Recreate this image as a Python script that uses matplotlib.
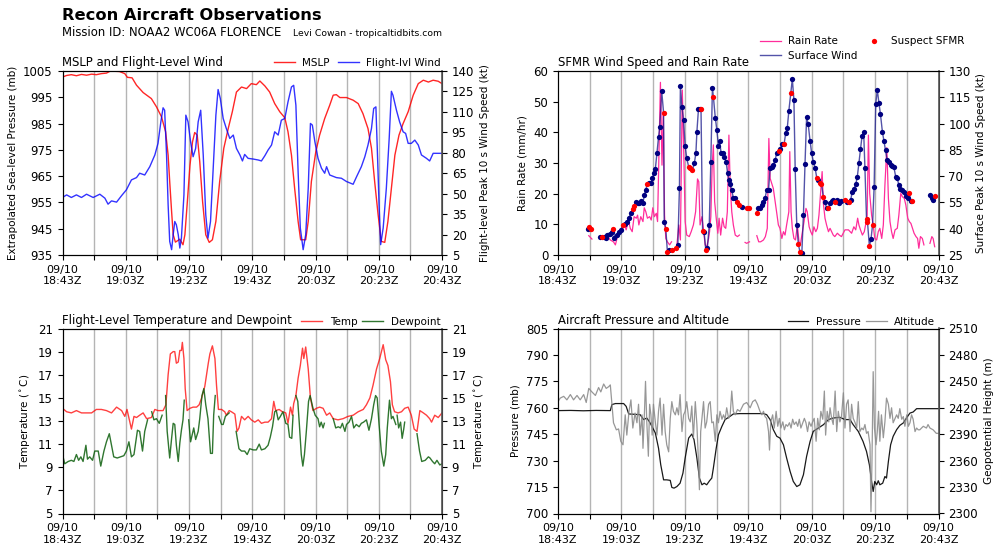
import numpy as np
import matplotlib
matplotlib.use("Agg")
import matplotlib.pyplot as plt

# ---------------- data (time in minutes after 09/10 18:43Z) ----------------
time_ticks = list(range(0, 121, 10))
time_labels = ["09/10\n18:43Z", "", "09/10\n19:03Z", "", "09/10\n19:23Z", "",
               "09/10\n19:43Z", "", "09/10\n20:03Z", "", "09/10\n20:23Z", "",
               "09/10\n20:43Z"]

mslp = [(0, 1002.7), (1.3, 1003.3), (2.8, 1003.6), (4.4, 1003.2), (6, 1003.7), (7.6, 1003.4),
        (9.2, 1003.8), (10.7, 1003.6), (12.3, 1004.0), (13.9, 1004.2), (15, 1004.9), (16.5, 1004.9),
        (18, 1004.8), (19.7, 1004.0), (20.5, 1002.6), (22, 1002.4), (23.4, 999.6), (25.5, 996.8),
        (28.1, 994.5), (29.7, 991.4), (31.3, 987.6), (32.6, 981.9), (33.4, 973), (33.9, 962.9),
        (34.5, 951.5), (35, 942.7), (35.7, 939.9), (37.1, 941), (38.1, 938.9), (38.7, 942.7),
        (39.4, 954), (40.3, 969), (41.1, 978), (41.8, 981.6), (42.6, 980.6), (43.4, 970.5),
        (44.3, 955.3), (45.3, 942.7), (46.4, 939.8), (47.4, 940.8), (48.5, 947.8), (49.7, 963),
        (51, 975.6), (52.4, 983.1), (53.7, 989.5), (55, 997), (56.6, 998.9), (58.2, 998.3),
        (59.7, 1000.2), (61.3, 999.8), (62.4, 1001.2), (64, 999.3), (65.5, 997), (67.1, 992.6),
        (68.7, 989.5), (70.3, 987.2), (71.3, 981.9), (72.4, 973), (73.4, 960.4), (74.5, 947.8),
        (75.3, 940.8), (76.9, 940.8), (77.7, 947.8), (78.7, 963), (80.1, 974.3), (81.3, 980.6),
        (82.9, 986.9), (84.5, 992), (85.6, 995.8), (86.6, 996), (87.7, 994.9), (89.8, 994.9),
        (91.9, 993.9), (93.5, 992.6), (95, 988.8), (96.6, 983.1), (97.7, 975.6), (98.7, 963),
        (99.8, 950.3), (100.8, 940.2), (101.9, 939.8), (102.9, 947.8), (104, 960.4), (105.1, 973),
        (106.4, 980.6), (107.7, 985), (109.3, 989.5), (110.9, 995.8), (112.5, 1000.2),
        (114.1, 1001.5), (115.7, 1000.8), (117.2, 1001.5), (118.8, 1001.1), (120, 1000.2)]

flight_wind = [(0, 47.2), (1.3, 49.1), (2.8, 47.2), (4.4, 49.1), (6, 47.2), (7.6, 49.6), (9.7, 47.2),
               (11.8, 49.6), (13.4, 46.7), (14.4, 42.3), (15.5, 44.7), (17.1, 43.8), (18.7, 48.6),
               (20.2, 52.8), (21.8, 60.1), (23.4, 61.8), (24.4, 65), (26, 63.7), (27.6, 69.8),
               (29.2, 78.4), (30.2, 86.9), (31.1, 102.7), (31.8, 113), (32.3, 111.2), (32.9, 78.4),
               (33.4, 41.8), (33.9, 15), (34.5, 8.9), (35, 19.9), (35.5, 29.6), (36, 27.2),
               (36.6, 19.9), (37.1, 10.1), (37.6, 17.4), (38.4, 49.1), (39, 107.6), (39.7, 102.7),
               (40.5, 88.1), (41.3, 77.1), (42.1, 83.2), (42.9, 102.7), (43.7, 111.2), (44.5, 78.4),
               (45.3, 34.5), (46, 17.4), (46.8, 29.6), (47.6, 66.2), (48.5, 107.6), (49.2, 126.4),
               (49.9, 119.8), (50.8, 105.2), (51.8, 97.8), (52.9, 90.5), (54, 93), (55, 83.2),
               (56.1, 78.4), (56.9, 74), (57.6, 78.8), (58.7, 75.9), (60.3, 75.4), (61.9, 74.7),
               (62.9, 74), (64, 77.9), (65, 82), (66.1, 85.7), (67.1, 95.4), (68.2, 93), (69.2, 103.9),
               (70.3, 105.2), (71.3, 117.3), (72.4, 128.3), (73.1, 129.5), (73.8, 114.9), (74.5, 66.2),
               (75.2, 24.8), (76.1, 8.9), (76.9, 19.9), (77.7, 54), (78.4, 101.5), (79, 100.3),
               (79.8, 88.1), (80.8, 75.9), (81.9, 68.6), (82.9, 65), (83.5, 69.8), (84.5, 63.7),
               (86.6, 61.8), (88.2, 61.3), (89.8, 58.9), (91.9, 56.9), (93, 62.5), (94.5, 69.8),
               (95.6, 77.1), (96.6, 85.7), (97.7, 97.8), (98.4, 112.5), (99.1, 113.7), (99.6, 78.4),
               (100.1, 41.8), (100.6, 12.6), (101.4, 24.8), (102.4, 54), (103.3, 90.5), (104, 125.1),
               (104.5, 122.2), (105.6, 111.2), (106.6, 102.7), (107.7, 95.4), (108.5, 94.2),
               (109.3, 86.9), (110.3, 86.9), (111.4, 89.3), (112.5, 85.7), (113.5, 78.4),
               (115.1, 75.9), (116.1, 74), (117.2, 79.6), (120, 79.6)]

# SFMR surface wind: (minute, kt, suspect flag); None = data gap
sfmr_wind = [(9.4, 39.8, 0), (9.9, 41.2, 1), (10.3, 39.8, 1), None,
             (13.1, 35.1, 0), (13.9, 35.1, 1), (14.6, 35.5, 0), (15.2, 34.5, 0), (15.6, 36.4, 0),
             (16.3, 36.8, 0), (17.0, 38.3, 0), (17.5, 39.8, 1), (17.8, 34.9, 0), (18.6, 36.4, 0),
             (19.2, 37.9, 0), (19.8, 39.3, 0), (20.5, 42.1, 1), (21.2, 42.7, 0), (21.8, 44.0, 0),
             (22.4, 46.3, 0), (23.0, 48.8, 0), (23.5, 51.1, 1), (24.0, 53.0, 1), (24.5, 55.1, 0),
             (25.1, 54.5, 0), (25.7, 54.5, 0), (26.2, 55.8, 0), (26.8, 54.5, 0), (27.2, 59.2, 0),
             (27.7, 62.1, 0), (28.1, 65.3, 1), (28.8, 65.9, 0), (29.3, 65.9, 0), (29.8, 68.7, 0),
             (30.2, 72.0, 0), (30.7, 74.1, 0), (31.2, 83.4, 0), (31.7, 92.1, 0), (32.1, 98.2, 0),
             (32.7, 118.6, 0), (33.3, 106.2, 1), (33.5, 44.0, 0), (34.0, 39.8, 1), (34.5, 26.9, 1),
             (35.1, 27.7, 0), (35.8, 27.7, 1), (37.2, 28.8, 1), (37.8, 30.7, 0), (38.3, 63.4, 0),
             (38.6, 121.4, 0), (39.1, 109.3, 0), (39.6, 102.0, 0), (40.1, 87.2, 0), (40.6, 80.2, 0),
             (41.2, 75.4, 1), (41.7, 74.5, 1), (42.4, 73.5, 1), (43.0, 77.3, 0), (43.5, 83.4, 0),
             (43.8, 95.2, 0), (44.3, 108.3, 0), (44.8, 108.3, 0), (45.1, 108.3, 1), (45.6, 38.7, 1),
             (46.1, 37.9, 0), (46.6, 27.9, 1), (47.1, 28.8, 0), (47.7, 42.1, 0), (48.2, 78.3, 0),
             (48.7, 120.1, 0), (49.0, 115.4, 1), (49.6, 103.4, 0), (50.1, 96.3, 0), (50.6, 87.4, 0),
             (51.0, 90.0, 0), (51.4, 83.4, 0), (52.0, 83.0, 0), (52.5, 81.1, 0), (53.0, 78.3, 0),
             (53.5, 71.6, 0), (53.9, 67.8, 0), (54.3, 65.3, 0), (54.8, 62.1, 0), (55.3, 57.3, 0),
             (55.9, 57.3, 0), (56.4, 55.4, 1), (57.0, 53.5, 1), (58.0, 52.6, 0), (59.5, 52.0, 1),
             (60.3, 52.0, 1), None,
             (62.7, 48.8, 1), (63.2, 52.0, 0), (63.7, 52.0, 0), (64.3, 53.5, 0), (64.8, 55.4, 0),
             (65.3, 57.3, 0), (65.8, 62.1, 0), (66.4, 62.1, 0), (66.9, 74.5, 0), (67.4, 75.4, 0),
             (67.9, 76.4, 0), (68.5, 79.2, 0), (69.0, 83.4, 0), (69.6, 84.3, 1), (70.1, 85.5, 0),
             (70.8, 88.2, 0), (71.3, 88.3, 1), (71.8, 94.4, 0), (72.3, 97.3, 0), (72.8, 107.2, 0),
             (73.4, 117.3, 1), (73.9, 125.4, 0), (74.4, 113.5, 0), (74.8, 74.1, 0), (75.3, 42.1, 0),
             (75.8, 31.1, 1), (76.3, 26.9, 1), (76.9, 26.3, 0), (77.4, 47.8, 0), (77.9, 76.9, 0),
             (78.4, 103.6, 0), (78.9, 99.8, 0), (79.5, 90.0, 0), (80.0, 83.0, 0), (80.5, 78.3, 0),
             (81.1, 74.5, 0), (81.6, 69.1, 1), (82.1, 67.8, 0), (82.6, 65.9, 1), (83.1, 65.3, 1),
             (83.7, 57.9, 1), (84.2, 55.4, 0), (84.7, 51.6, 0), (85.3, 52.0, 1), (85.8, 54.5, 0),
             (86.3, 55.8, 0), (86.8, 56.4, 0), (87.3, 55.4, 1), (87.9, 56.4, 0), (88.7, 54.5, 0),
             (89.4, 55.8, 0), (90.5, 56.4, 1), (91.0, 55.4, 0), (91.8, 55.0, 1), (92.3, 56.4, 0),
             (92.8, 61.1, 0), (93.3, 62.5, 0), (93.9, 65.3, 0), (94.4, 69.7, 0), (94.9, 77.3, 0),
             (95.4, 85.3, 0), (95.9, 93.1, 0), (96.4, 95.0, 0), (96.8, 74.5, 0), (97.3, 45.4, 1),
             (97.6, 44.0, 1), (98.2, 30.1, 1), (98.7, 33.9, 0), (99.2, 42.1, 1), (99.7, 64.0, 0),
             (100.2, 111.2, 0), (100.7, 119.2, 0), (101.2, 111.9, 0), (101.7, 105.3, 0),
             (102.3, 95.4, 0), (102.8, 90.0, 0), (103.3, 84.9, 0), (103.8, 79.2, 0), (104.4, 78.3, 0),
             (104.9, 76.4, 0), (105.4, 76.0, 0), (105.9, 75.4, 0), (106.5, 69.7, 0), (107.0, 68.7, 0),
             (107.5, 64.9, 0), (108.0, 62.7, 0), (108.6, 62.1, 0), (109.2, 61.1, 0), (109.7, 58.9, 0),
             (110.3, 57.7, 0), (110.8, 60.2, 1), (111.2, 55.8, 0), (111.8, 55.8, 1), None,
             (117.3, 59.2, 0), (117.8, 57.3, 0), (118.3, 56.4, 0), (118.8, 58.7, 1)]

rain_rate = [(9.7, 6.3), (10.7, 5.2), None,
             (13.1, 5.8), (14.4, 5.4), (15.4, 6.3), (16.5, 4.9), (17.5, 4.3), (18.1, 3.3), (18.6, 5.4),
             (19.4, 7.1), (20.2, 7.6), (20.9, 10.3), (21.5, 8.2), (22.2, 11.4), (22.8, 8.7), (23.4, 7.6),
             (24.0, 12.5), (24.7, 12.0), (25.1, 13.0), (25.5, 9.8), (26.1, 12.5), (26.8, 10.9),
             (27.2, 15.4), (27.7, 14.1), (28.2, 12.0), (28.9, 12.5), (29.4, 11.4), (29.9, 15.4),
             (30.4, 12.5), (31.0, 13.6), (31.4, 10.9), (31.9, 35.9), (32.3, 56.3), (32.8, 29.3),
             (33.2, 46.7), (33.6, 13.0), (34.0, 5.4), (34.5, 4.3), (35.2, 3.3), (35.8, 4.3), None,
             (37.5, 3.3), (38.1, 9.8), (38.6, 4.9), (39.2, 53.8), (39.6, 37.0), (40.1, 10.9),
             (40.6, 6.5), (41.4, 6.0), (42.0, 7.6), (42.7, 9.8), (43.4, 14.1), (44.0, 24.8),
             (44.4, 23.9), (44.8, 9.8), (45.4, 12.5), (45.9, 8.2), (46.4, 3.3), (46.9, 2.7), (47.5, 5.4),
             (47.8, 7.6), (48.2, 12.5), (48.6, 28.3), (49.0, 35.9), (49.4, 17.4), (49.9, 12.0),
             (50.4, 7.1), (50.8, 12.0), (51.3, 6.5), (51.9, 12.0), (52.4, 9.2), (52.9, 8.7),
             (53.4, 14.1), (53.9, 39.1), (54.3, 22.8), (54.8, 14.1), (55.3, 9.8), (55.9, 6.5),
             (56.6, 6.0), (57.2, 6.5), None,
             (59.0, 4.1), (59.5, 3.8), (60.4, 4.3), None,
             (62.7, 6.3), (63.3, 4.3), (63.9, 4.3), (64.8, 4.9), (65.4, 6.0), (66.0, 8.7), (66.5, 38.0),
             (66.9, 25.0), (67.4, 23.4), (67.9, 21.7), (68.5, 17.4), (69.0, 13.6), (69.5, 9.8),
             (70.0, 8.7), (70.6, 5.4), (71.1, 7.6), (71.6, 6.5), (72.1, 9.8), (72.8, 14.1), (73.1, 33.7),
             (73.5, 14.1), (73.9, 8.7), (74.4, 5.4), (74.9, 4.9), (75.5, 9.8), (76.0, 4.3), (76.5, 3.8),
             (77.1, 7.6), (77.6, 10.9), (78.2, 15.2), (78.6, 14.1), (79.2, 9.2), (79.7, 7.6),
             (80.2, 6.5), (80.7, 9.2), (81.3, 7.6), (81.8, 8.7), (82.3, 13.0), (82.8, 20.1),
             (83.3, 27.2), (83.7, 16.8), (84.2, 12.0), (84.7, 9.8), (85.3, 7.6), (85.8, 8.7),
             (86.3, 7.6), (86.8, 6.5), (87.3, 6.0), (88.1, 7.1), (88.7, 6.5), (89.4, 6.0), (90.5, 8.2),
             (91.6, 8.2), (92.6, 7.1), (93.3, 9.2), (93.9, 8.2), (94.5, 12.0), (94.9, 9.8), (95.4, 8.2),
             (96.0, 6.5), (96.6, 7.6), (97.0, 9.8), (97.5, 13.0), (97.9, 39.1), (98.3, 20.1),
             (98.9, 13.0), (99.4, 9.8), (99.9, 5.4), (100.5, 4.9), (101.0, 7.6), (101.5, 8.7),
             (102.1, 5.4), (102.6, 9.8), (103.1, 22.8), (103.7, 35.0), (104.2, 18.5), (104.7, 10.9),
             (105.2, 7.6), (105.7, 5.4), (106.3, 8.2), (107.0, 8.7), (107.5, 13.0), (108.1, 20.1),
             (108.6, 19.0), (109.2, 18.5), (109.7, 16.3), (110.3, 12.0), (110.8, 10.9), (111.3, 10.3),
             (111.8, 8.7), (112.3, 7.1), (112.9, 6.0), (113.4, 5.4), (113.8, 2.2), (114.3, 6.0),
             (114.9, 5.4), (115.4, 3.3), None,
             (117.3, 3.8), (117.9, 6.0), (118.3, 5.4), (118.8, 2.7)]

temp = [(0, 14.1), (1.3, 13.8), (2.8, 13.7), (4.4, 13.9), (6.0, 13.7), (7.6, 13.7), (9.2, 13.7),
        (10.7, 14.0), (12.3, 14.0), (13.9, 13.9), (15.5, 13.7), (17.1, 14.2), (18.7, 13.9),
        (19.7, 13.4), (20.4, 14.0), (21.3, 12.9), (21.8, 12.3), (22.6, 13.4), (23.4, 13.3),
        (24.4, 13.5), (25.5, 13.7), (26.6, 13.2), (28.1, 13.3), (29.2, 14.0), (30.2, 13.9),
        (31.8, 13.9), (32.7, 14.4), (33.4, 17.0), (34.1, 18.8), (35.0, 19.0), (35.5, 19.0),
        (36.0, 18.0), (36.6, 18.1), (37.1, 19.1), (37.6, 19.1), (37.9, 19.8), (38.4, 18.4),
        (38.8, 15.8), (39.4, 13.9), (40.3, 14.1), (41.3, 14.2), (42.4, 14.2), (43.2, 14.4),
        (44.0, 15.0), (45.0, 16.0), (46.1, 18.0), (46.6, 18.8), (47.4, 19.5), (48.2, 18.4),
        (48.7, 16.1), (49.3, 14.0), (50.3, 14.0), (51.3, 13.8), (51.8, 13.5), (52.7, 13.9),
        (53.4, 13.8), (54.5, 13.6), (55.2, 12.1), (55.8, 12.4), (56.6, 13.4), (57.6, 13.1),
        (58.7, 13.4), (59.7, 13.1), (60.8, 12.9), (61.9, 13.1), (62.9, 12.8), (64.0, 12.9),
        (65.0, 12.9), (66.1, 13.2), (66.8, 14.7), (67.4, 13.9), (68.5, 14.0), (69.5, 13.8),
        (70.6, 13.7), (71.3, 12.8), (72.1, 14.2), (72.7, 13.5), (73.1, 14.5), (73.8, 15.2),
        (74.5, 16.7), (75.2, 17.8), (75.9, 19.3), (76.3, 18.4), (76.9, 19.4), (77.7, 17.5),
        (78.4, 15.0), (79.2, 13.9), (80.3, 14.1), (81.3, 14.2), (82.4, 14.1), (83.5, 13.5),
        (84.5, 13.7), (85.6, 13.2), (87.1, 13.1), (88.7, 13.2), (90.3, 13.4), (91.9, 13.5),
        (93.5, 13.8), (95.1, 14.0), (96.1, 14.4), (97.2, 15.0), (98.2, 16.1), (99.3, 17.5),
        (100.3, 18.4), (101.4, 19.6), (102.2, 18.3), (102.9, 17.8), (103.7, 16.4), (104.3, 14.4),
        (105.0, 13.8), (106.1, 13.7), (107.2, 13.8), (108.2, 14.1), (109.3, 14.2), (110.3, 13.5),
        (111.2, 12.3), (112.1, 12.1), (113.0, 13.9), (114.1, 13.7), (115.1, 13.5), (116.1, 13.2),
        (116.7, 12.9), (117.7, 13.5), (118.8, 13.3), (120, 13.7)]

dewpoint = [(0, 10.1), (0.7, 9.3), (1.8, 9.5), (2.8, 9.6), (3.6, 9.5), (4.4, 10.1), (5.1, 9.6),
            (5.8, 9.9), (6.5, 9.5), (7.4, 10.9), (7.9, 9.7), (8.6, 9.9), (9.5, 9.6), (10.2, 10.4),
            (11.3, 10.4), (12.1, 9.1), (13.1, 10.4), (13.9, 11.2), (14.8, 11.9), (15.5, 10.9),
            (16.2, 9.9), (17.3, 9.8), (18.3, 9.9), (19.4, 10.0), (20.2, 10.4), (21.0, 11.2),
            (21.8, 9.9), (22.6, 10.1), (23.7, 12.2), (24.4, 12.1), (25.3, 10.4), (26.0, 12.1),
            (26.9, 13.1), None,
            (28.2, 13.8), (28.9, 13.1), (29.7, 13.2), (30.6, 12.8), (31.5, 13.5), None,
            (32.6, 15.2), (33.1, 12.1), (33.9, 9.8), (34.5, 11.5), (35.0, 12.8), (35.5, 12.7),
            (36.0, 10.9), (36.6, 9.5), (37.1, 11.1), (37.6, 12.2), (38.1, 13.1), (38.5, 14.8), None,
            (39.9, 13.1), (40.5, 11.2), (41.1, 11.9), (41.5, 12.4), (42.1, 11.4), (42.9, 12.1),
            (43.4, 13.2), (44.1, 15.2), (44.7, 15.8), (45.3, 14.4), (46.0, 13.2), (46.8, 10.2),
            (47.4, 10.2), (47.8, 13.5), (48.3, 15.2), None,
            (49.4, 13.4), (50.3, 12.7), (50.8, 12.7), (51.5, 13.4), (52.7, 13.7), None,
            (54.9, 12.1), (55.8, 10.6), (56.6, 10.4), (57.6, 10.4), (58.4, 10.1), (59.2, 10.6),
            (60.3, 10.5), (61.3, 10.5), (62.2, 11.0), (62.9, 10.5), (64.0, 10.6), (65.0, 10.9),
            (65.7, 11.6), (66.4, 12.5), (67.1, 13.8), (67.6, 13.9), (68.2, 13.1), (68.9, 13.4),
            (69.7, 13.8), (70.6, 12.8), (71.3, 12.7), (71.8, 11.6), (72.5, 11.5), (72.9, 13.5), None,
            (73.8, 15.2), (74.4, 14.7), (74.9, 12.7), (75.5, 10.1), (76.0, 9.1), (76.5, 10.1),
            (77.1, 12.1), (77.8, 14.7), (78.3, 15.2), (79.2, 14.1), (79.9, 13.5), (80.8, 13.2),
            (81.3, 12.5), (81.8, 12.9), (82.4, 12.4), (82.8, 12.8), None,
            (85.6, 13.2), (86.4, 12.4), (87.2, 12.5), (87.9, 12.4), (88.5, 12.8), (89.3, 12.1),
            (89.8, 12.7), (90.6, 12.9), (91.4, 13.4), (92.1, 12.4), (92.9, 12.7), (93.8, 12.5),
            (94.5, 12.8), (95.2, 12.9), (96.1, 13.1), (96.9, 12.2), (97.7, 13.2), (98.4, 14.4),
            (99.0, 15.2), (99.5, 15.0), (100.1, 12.7), (100.8, 10.4), (101.6, 9.1), (102.2, 10.1),
            (102.7, 12.4), (103.4, 14.8), (104.0, 13.2), (104.5, 13.4), (105.4, 12.7), None,
            (105.8, 13.5), (106.3, 12.4), (106.9, 12.9), (107.4, 11.5), (107.9, 12.3), (108.2, 12.9), None,
            (112.1, 11.9), (112.9, 10.4), (113.6, 9.5), (114.7, 9.6), (115.7, 9.9), (116.2, 9.8),
            (117.0, 9.5), (117.7, 9.3), (118.4, 9.6), (119.3, 9.2), (120, 9.3)]

aircraft_pressure = [(0, 758.4), (4, 758.5), (8, 758.3), (12, 758.5), (16.5, 758.4), (17.0, 761.8),
                     (18.1, 762.4), (20.7, 762.4), (21.5, 760.8), (22.3, 756.5), (25.9, 756.1),
                     (27.0, 753.3), (28.0, 754.2), (28.9, 751.9), (29.6, 749.5), (30.7, 745.7),
                     (31.7, 737.1), (32.4, 727.7), (33.3, 719.1), (34.3, 719.1), (35.4, 718.8),
                     (35.9, 714.8), (36.6, 714.4), (37.5, 715.3), (38.5, 717.2), (39.4, 722.9),
                     (40.1, 731.5), (41.2, 742.8), (42.2, 745.1), (42.9, 741.9), (43.8, 731.5),
                     (44.6, 720.1), (45.4, 716.3), (46.1, 717.2), (46.9, 716.3), (47.8, 718.6),
                     (48.5, 720.1), (49.0, 725.8), (49.9, 737.1), (50.6, 744.7), (51.7, 749.5),
                     (52.7, 753.3), (54.3, 755.2), (55.3, 756.5), (57.4, 756.7), (64.8, 756.7),
                     (65.8, 756.1), (66.9, 753.3), (67.9, 747.6), (69.0, 743.8), (70.0, 742.8),
                     (71.1, 739.0), (72.1, 731.5), (73.2, 723.9), (74.2, 718.2), (75.3, 715.3),
                     (76.3, 716.3), (77.4, 722.0), (78.4, 732.4), (79.5, 740.9), (80.5, 746.6),
                     (82.1, 748.5), (83.7, 750.4), (85.3, 753.3), (86.8, 754.2), (88.9, 754.6),
                     (90.5, 753.3), (92.1, 753.3), (93.1, 750.4), (94.7, 746.6), (96.2, 740.9),
                     (97.3, 735.2), (98.2, 727.7), (98.9, 718.2), (99.4, 712.5), (99.9, 718.2),
                     (100.5, 716.3), (101.0, 718.6), (101.5, 716.3), (102.4, 717.2), (103.1, 721.0),
                     (103.6, 720.1), (104.2, 729.6), (104.9, 739.0), (105.7, 743.8), (106.8, 747.6),
                     (107.8, 750.0), (108.9, 751.4), (109.9, 754.2), (111.0, 757.0), (112.0, 757.6),
                     (113.1, 759.5), (120, 759.5)]

altitude = [(0, 2427), (0.7, 2431), (1.8, 2433), (2.8, 2429), (3.9, 2435), (4.9, 2429), (6.0, 2434),
            (7.0, 2429), (8.1, 2435), (8.9, 2426), (9.7, 2442), (10.7, 2438), (11.8, 2434),
            (12.8, 2443), (13.5, 2438), (14.4, 2447), (15.2, 2442), (16.0, 2444), (16.5, 2446),
            (17.0, 2424), (17.5, 2403), (18.4, 2395), (19.1, 2396), (19.8, 2382), (20.5, 2378),
            (21.2, 2412), (21.7, 2389), (22.4, 2416), (23.0, 2429), (23.6, 2397), (24.3, 2414),
            (24.9, 2403), (25.4, 2424), (25.9, 2389), (26.5, 2412), (26.8, 2374), (27.2, 2408),
            (27.6, 2450), (28.0, 2404), (28.5, 2365), (28.9, 2424), (29.3, 2412), (29.7, 2389),
            (30.1, 2424), (30.7, 2404), (31.2, 2389), (31.7, 2416), (32.2, 2431), (32.8, 2389),
            (33.3, 2424), (33.8, 2393), (34.3, 2378), (34.9, 2370), (35.4, 2408), (35.9, 2427),
            (36.4, 2416), (37.0, 2412), (37.5, 2420), (38.0, 2412), (38.5, 2435), (39.1, 2393),
            (39.6, 2412), (40.1, 2416), (40.6, 2427), (41.2, 2408), (41.7, 2404), (42.2, 2422),
            (42.7, 2386), (43.3, 2427), (43.8, 2401), (44.3, 2359), (44.6, 2327), (45.0, 2393),
            (45.5, 2412), (45.9, 2427), (46.4, 2397), (46.9, 2404), (47.5, 2424), (48.0, 2427),
            (48.5, 2403), (49.0, 2404), (49.6, 2382), (50.1, 2412), (50.6, 2403), (51.1, 2416),
            (51.7, 2407), (52.2, 2412), (52.7, 2407), (53.2, 2420), (53.8, 2408), (54.3, 2412),
            (54.8, 2439), (55.3, 2416), (55.9, 2412), (56.6, 2418), (57.4, 2416), (58.5, 2424),
            (59.5, 2426), (60.6, 2420), (61.4, 2427), (62.2, 2429), (62.9, 2424), (63.7, 2416),
            (64.3, 2412), (64.8, 2416), (65.3, 2410), (65.8, 2408), (66.4, 2393), (66.7, 2372),
            (67.1, 2404), (67.7, 2412), (68.2, 2397), (68.8, 2416), (69.3, 2399), (69.8, 2408),
            (70.3, 2397), (70.9, 2404), (71.4, 2395), (71.9, 2401), (72.4, 2399), (73.0, 2403),
            (73.5, 2397), (74.0, 2407), (74.5, 2401), (75.1, 2404), (75.6, 2399), (76.1, 2407),
            (76.6, 2397), (77.2, 2403), (77.7, 2408), (78.2, 2403), (78.7, 2393), (79.2, 2404),
            (79.8, 2399), (80.3, 2404), (80.8, 2408), (81.4, 2382), (81.9, 2408), (82.4, 2395),
            (82.9, 2416), (83.5, 2407), (84.0, 2439), (84.4, 2389), (84.9, 2416), (85.4, 2404),
            (85.8, 2420), (86.3, 2408), (86.8, 2401), (87.4, 2439), (87.9, 2393), (88.4, 2416),
            (88.9, 2404), (89.4, 2410), (90.0, 2437), (90.5, 2397), (91.0, 2424), (91.5, 2429),
            (92.1, 2393), (92.6, 2424), (93.1, 2408), (93.7, 2403), (94.2, 2397), (94.7, 2427),
            (95.2, 2393), (95.8, 2397), (96.3, 2395), (96.8, 2401), (97.3, 2391), (97.8, 2393),
            (98.4, 2378), (98.7, 2302), (99.0, 2355), (99.4, 2461), (99.8, 2397), (100.3, 2378),
            (100.7, 2393), (101.1, 2416), (101.5, 2382), (102.0, 2412), (102.6, 2386), (103.1, 2404),
            (103.6, 2431), (104.2, 2424), (104.7, 2408), (105.2, 2420), (105.7, 2403), (106.2, 2407),
            (106.8, 2412), (107.3, 2408), (107.8, 2419), (108.4, 2407), (108.9, 2410), (109.4, 2399),
            (110.0, 2412), (110.5, 2399), (111.0, 2403), (111.5, 2412), (112.0, 2407), (112.6, 2393),
            (113.1, 2397), (113.6, 2395), (114.1, 2395), (115.2, 2399), (116.2, 2397), (116.7, 2401),
            (117.3, 2397), (118.3, 2395), (119.3, 2391), (120, 2391)]


def series(points, ncol=2):
    rows = [p if p is not None else (np.nan,) * ncol for p in points]
    arr = np.array(rows, dtype=float)
    return [arr[:, i] for i in range(ncol)]


# ---------------- figure ----------------
plt.rcParams['font.family'] = ['DejaVu Sans']
fig = plt.figure(figsize=(10, 5.55), dpi=100)

W, H = 1000.0, 555.0


def make_axes(x0, x1, ytop, ybot):
    return fig.add_axes([x0 / W, 1 - ybot / H, (x1 - x0) / W, (ybot - ytop) / H])


def style_time(ax):
    ax.set_xlim(0, 120)
    ax.set_xticks(time_ticks)
    ax.set_xticklabels(time_labels)
    for t in time_ticks[1:-1]:
        ax.axvline(t, color='#b4b4b4', lw=1.0, zorder=0)
    ax.tick_params(axis='x', direction='out', labelsize=8, length=3.5, width=0.8)
    ax.tick_params(axis='y', direction='out', labelsize=8.5, length=3.5, width=0.8)


def style_right(ax2):
    ax2.tick_params(axis='y', direction='out', labelsize=8.5, length=3.5, width=0.8)


ax1 = make_axes(62.5, 442, 71, 255)
ax2 = make_axes(558, 938.5, 71, 255)
ax3 = make_axes(62.5, 442, 328.5, 513.5)
ax4 = make_axes(558, 938.5, 328.5, 513.5)

lab_fs = 7.5
title_fs = 8.4
leg_fs = 7.5
leg_kw = dict(frameon=False, fontsize=leg_fs, borderaxespad=0, borderpad=0.1,
              handlelength=2.0, handletextpad=0.7)

# ---- Panel 1: MSLP and flight-level wind
style_time(ax1)
t, v = series(mslp)
l1, = ax1.plot(t, v, color='red', lw=1.0, alpha=0.85, label='MSLP')
ax1.set_ylim(935, 1005)
ax1.set_yticks(np.arange(935, 1006, 10))
ax1.set_ylabel('Extrapolated Sea-level Pressure (mb)', fontsize=lab_fs)
ax1r = ax1.twinx()
t, v = series(flight_wind)
l2, = ax1r.plot(t, v, color='blue', lw=1.0, alpha=0.8, label='Flight-lvl Wind')
ax1r.set_ylim(5, 140)
ax1r.set_yticks(np.arange(5, 141, 15))
ax1r.set_ylabel('Flight-level Peak 10 s Wind Speed (kt)', fontsize=lab_fs)
style_right(ax1r)
ax1.set_title('MSLP and Flight-Level Wind', loc='left', fontsize=title_fs, pad=3.5)
ax1r.legend(handles=[l1, l2], loc='lower right', bbox_to_anchor=(1.0, 1.01), ncol=2,
            columnspacing=0.8, **leg_kw)

# ---- Panel 2: SFMR
style_time(ax2)
t, v = series(rain_rate)
l3, = ax2.plot(t, v, color='#ff2d9b', lw=0.9, label='Rain Rate')
ax2.set_ylim(0, 60)
ax2.set_yticks(np.arange(0, 61, 10))
ax2.set_ylabel('Rain Rate (mm/hr)', fontsize=lab_fs)
ax2r = ax2.twinx()
t, v, s = series(sfmr_wind, 3)
l4, = ax2r.plot(t, v, color='#1a1a8c', lw=1.0, alpha=0.75, label='Surface Wind')
ok = s == 0
ax2r.plot(t[ok], v[ok], 'o', color='#000080', ms=3.8, mew=0)
bad = s == 1
l5, = ax2r.plot(t[bad], v[bad], 'o', color='red', ms=3.8, mew=0, label='Suspect SFMR')
ax2r.set_ylim(25, 130)
ax2r.set_yticks(np.arange(25, 131, 15))
ax2r.set_ylabel('Surface Peak 10 s Wind Speed (kt)', fontsize=lab_fs)
style_right(ax2r)
ax2.set_title('SFMR Wind Speed and Rain Rate', loc='left', fontsize=title_fs, pad=3.5)
ax2r.legend(handles=[l3, l4, l5], loc='lower right', bbox_to_anchor=(1.072, 1.049), ncol=2,
            columnspacing=0.55, labelspacing=0.45, **leg_kw)

# ---- Panel 3: Temperature and dewpoint
style_time(ax3)
t, v = series(temp)
l6, = ax3.plot(t, v, color='red', lw=1.0, alpha=0.75, label='Temp')
t, v = series(dewpoint)
l7, = ax3.plot(t, v, color='#0b5e0b', lw=1.0, alpha=0.85, label='Dewpoint')
ax3.set_ylim(5, 21)
ax3.set_yticks(np.arange(5, 22, 2))
ax3.set_ylabel('Temperature ($^\\circ$C)', fontsize=lab_fs)
ax3r = ax3.twinx()
ax3r.set_ylim(5, 21)
ax3r.set_yticks(np.arange(5, 22, 2))
ax3r.set_ylabel('Temperature ($^\\circ$C)', fontsize=lab_fs)
style_right(ax3r)
ax3.set_title('Flight-Level Temperature and Dewpoint', loc='left', fontsize=title_fs, pad=3.5)
ax3r.legend(handles=[l6, l7], loc='lower right', bbox_to_anchor=(0.998, 1.004), ncol=2,
            columnspacing=0.5, **leg_kw)

# ---- Panel 4: Aircraft pressure and altitude
style_time(ax4)
t, v = series(aircraft_pressure)
l8, = ax4.plot(t, v, color='black', lw=0.9, alpha=0.9, label='Pressure')
ax4.set_ylim(700, 805)
ax4.set_yticks(np.arange(700, 806, 15))
ax4.set_ylabel('Pressure (mb)', fontsize=lab_fs)
ax4r = ax4.twinx()
t, v = series(altitude)
l9, = ax4r.plot(t, v, color='#8c8c8c', lw=0.9, alpha=0.9, label='Altitude')
ax4r.set_ylim(2300, 2510)
ax4r.set_yticks(np.arange(2300, 2511, 30))
ax4r.set_ylabel('Geopotential Height (m)', fontsize=lab_fs)
style_right(ax4r)
ax4.set_title('Aircraft Pressure and Altitude', loc='left', fontsize=title_fs, pad=3.5)
ax4r.legend(handles=[l8, l9], loc='lower right', bbox_to_anchor=(0.993, 1.004), ncol=2,
            columnspacing=0.5, **leg_kw)

for a in (ax1r, ax2r, ax3r, ax4r):
    a.spines['right'].set_color('#555555')
    a.spines['right'].set_linewidth(1.2)

# ---- figure titles
fig.text(62 / W, 1 - 20.5 / H, 'Recon Aircraft Observations', fontsize=11.7,
         fontweight='bold', va='baseline')
fig.text(62 / W, 1 - 36 / H, 'Mission ID: NOAA2 WC06A FLORENCE', fontsize=8.35, va='baseline')
fig.text(293 / W, 1 - 36 / H, 'Levi Cowan - tropicaltidbits.com', fontsize=6.7, va='baseline')

fig.savefig('out.png', dpi=100)
